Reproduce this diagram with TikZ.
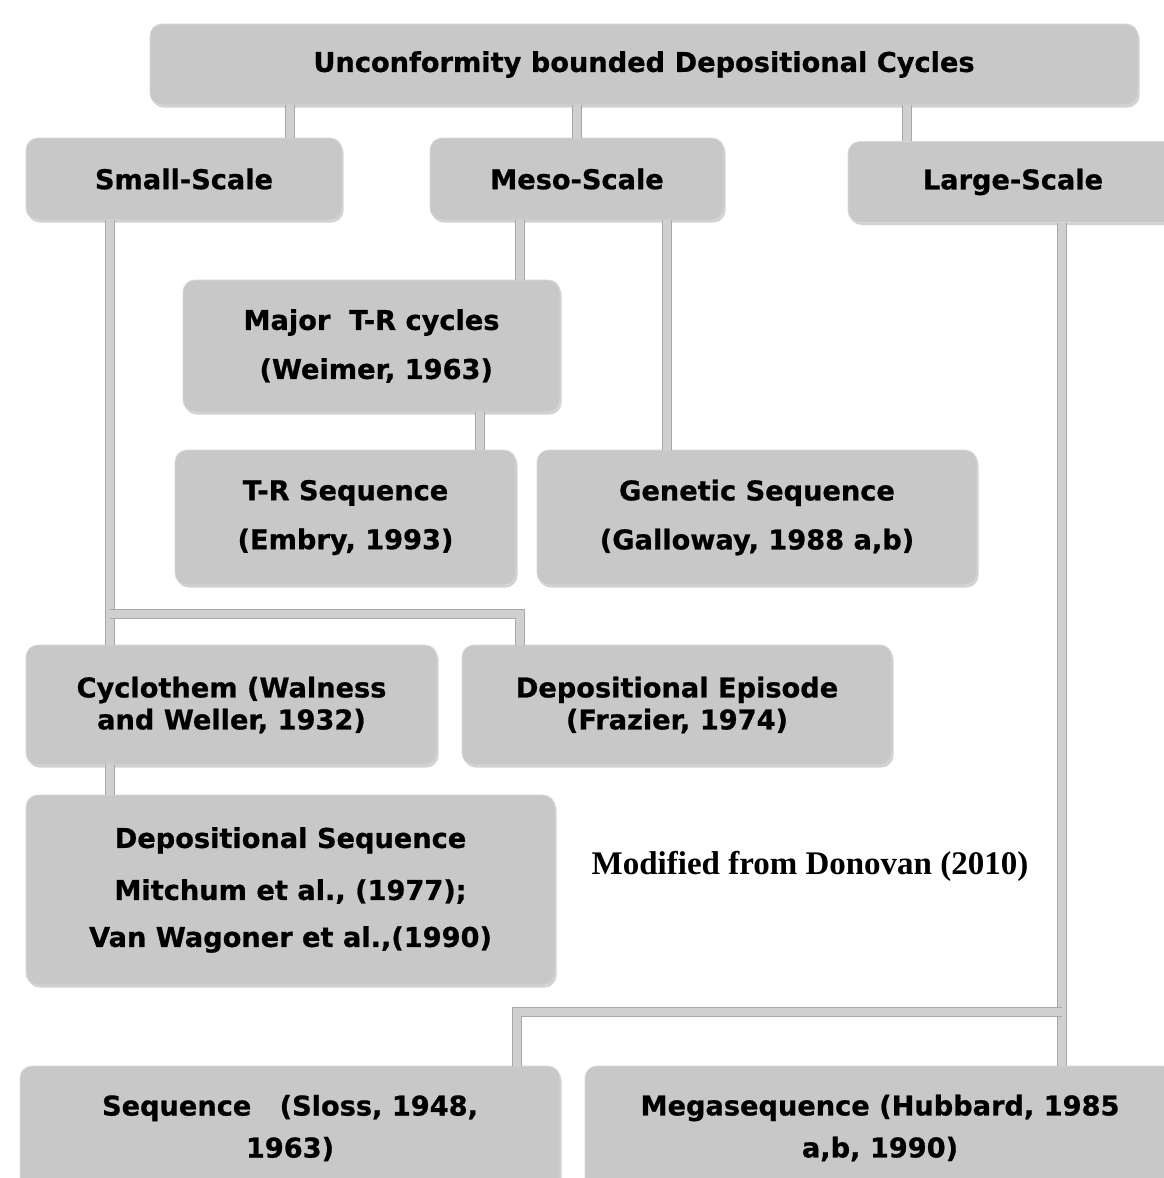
\documentclass[tikz,border=0pt]{standalone}
\usepackage{fontspec}
\setmainfont{DejaVu Sans}[BoldFeatures={FakeBold=0.8}]
\newfontfamily\timesfont{Liberation Serif}
\usetikzlibrary{shadows}
\definecolor{boxgray}{HTML}{C8C8C8}
\definecolor{boxedge}{HTML}{D8D8D8}
\definecolor{barfill}{HTML}{D0D0D0}
\definecolor{baredge}{HTML}{A8A8A8}
\tikzset{
  box/.style={rounded corners=12pt, fill=boxgray, draw=boxedge, line width=0.8pt,
    align=center, inner sep=0pt, font=\bfseries\fontsize{27.2}{32}\selectfont,
    drop shadow={shadow xshift=1.5pt, shadow yshift=-2.5pt, opacity=0.35}},
  bar/.style={draw=baredge, line width=1pt, double=barfill, double distance=8pt}
}
\begin{document}
\begin{tikzpicture}[x=1pt,y=-1pt]
\clip (0,0) rectangle (1164,1178);
\fill[white] (0,0) rectangle (1164,1178);
% nodes
\node[box, minimum width=988pt, minimum height=81pt] (top) at (644,64.5) {Unconformity bounded Depositional Cycles};
\node[box, minimum width=316pt, minimum height=82pt] (small) at (184,179) {Small-Scale};
\node[box, minimum width=294pt, minimum height=82pt] (meso) at (577,179) {Meso-Scale};
\node[box, minimum width=330pt, minimum height=81pt] (large) at (1013,182) {Large-Scale};
\node[box, minimum width=377pt, minimum height=132pt] (major) at (371.5,346) {Major\ \ T-R cycles\\[17pt]\ (Weimer, 1963)};
\node[box, minimum width=341pt, minimum height=135pt] (trseq) at (345.5,517.5) {T-R Sequence\\[17pt](Embry, 1993)};
\node[box, minimum width=440pt, minimum height=135pt] (gen) at (757,517.5) {Genetic Sequence\\[17pt](Galloway, 1988 a,b)};
\node[box, minimum width=411pt, minimum height=120pt] (cyc) at (231.5,705) {Cyclothem (Walness\\and Weller, 1932)};
\node[box, minimum width=430pt, minimum height=120pt] (depep) at (677,705) {Depositional Episode\\(Frazier, 1974)};
\node[box, minimum width=529pt, minimum height=190pt] (depseq) at (290.5,890) {Depositional Sequence\\[20pt]Mitchum et al., (1977);\\[15pt]Van Wagoner et al.,(1990)};
\node[box, minimum width=540pt, minimum height=124pt] (seq) at (290,1128) {Sequence\ \ \ (Sloss, 1948,\\[10pt]1963)};
\node[box, minimum width=590pt, minimum height=124pt] (mega) at (880,1128) {Megasequence (Hubbard, 1985\\[10pt]a,b, 1990)};
\node[font=\timesfont\bfseries\fontsize{33}{38}\selectfont] (mod) at (810,866) {Modified from Donovan (2010)};
% junction coordinates
\coordinate (j1) at (110,614);
\coordinate (j2) at (1062,1012);
% connectors
\draw[bar] (top.south -| 290,0) -- (small.north -| 290,0);
\draw[bar] (top.south -| 577,0) -- (meso.north -| 577,0);
\draw[bar] (top.south -| 907,0) -- (large.north -| 907,0);
\draw[bar] (meso.south -| 520,0) -- (major.north -| 520,0);
\draw[bar] (major.south -| 480,0) -- (trseq.north -| 480,0);
\draw[bar] (meso.south -| 667,0) -- (gen.north -| 667,0);
\draw[bar] (small.south -| j1) -- (cyc.north -| j1);
\draw[bar] (j1) -- (j1 -| 520,0) -- (depep.north -| 520,0);
\draw[bar] (cyc.south -| 110,0) -- (depseq.north -| 110,0);
\draw[bar] (large.south -| j2) -- (mega.north -| j2);
\draw[bar] (j2) -- (j2 -| 517,0) -- (seq.north -| 517,0);
\end{tikzpicture}
\end{document}
